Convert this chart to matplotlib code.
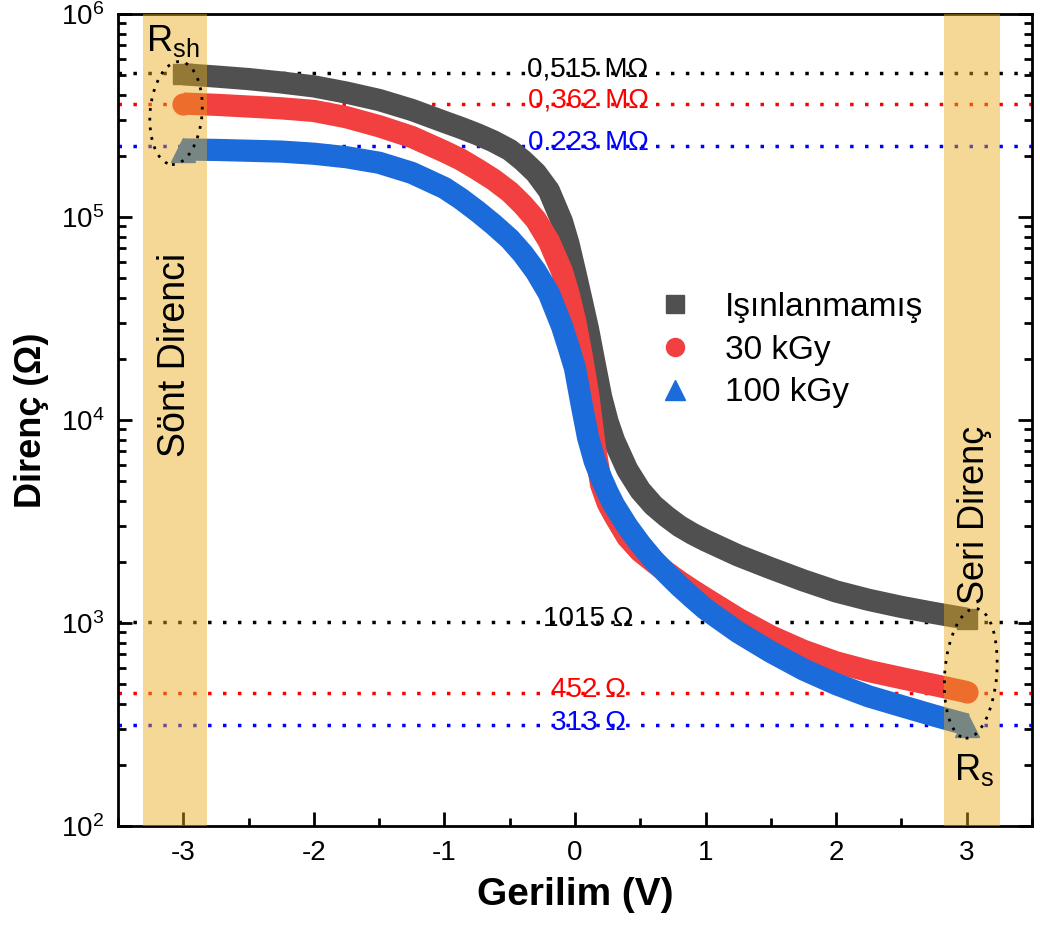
import matplotlib
matplotlib.use("Agg")
import matplotlib.pyplot as plt
import matplotlib.ticker as mticker
from matplotlib.lines import Line2D
from matplotlib.patches import Ellipse

plt.rcParams["font.family"] = ["Liberation Sans", "DejaVu Sans"]
plt.rcParams["mathtext.default"] = "regular"

# ---------------------------------------------------------------------------
# Data
# ---------------------------------------------------------------------------

VOLTAGE = [-3.0, -2.75, -2.5, -2.25, -2.0, -1.75, -1.5, -1.25, -1.0, -0.875,
           -0.75, -0.625, -0.5, -0.4, -0.3, -0.2, -0.1, -0.05, 0.0, 0.05,
           0.1, 0.15, 0.2, 0.25, 0.3, 0.4, 0.5, 0.6, 0.7, 0.8, 0.9, 1.0,
           1.25, 1.5, 1.75, 2.0, 2.25, 2.5, 2.75, 3.0]

R_UNIRRADIATED = [5.05e5, 4.92e5, 4.78e5, 4.6e5, 4.4e5, 4.1e5, 3.77e5, 3.37e5,
                  2.94e5, 2.75e5, 2.56e5, 2.36e5, 2.14e5, 1.9e5, 1.65e5,
                  1.35e5, 9.5e4, 7.4e4, 5.4e4, 3.9e4, 2.8e4, 1.9e4, 1.3e4,
                  9.8e3, 7.9e3, 5.7e3, 4.5e3, 3.8e3, 3.35e3, 3.0e3, 2.75e3,
                  2.55e3, 2.15e3, 1.86e3, 1.62e3, 1.43e3, 1.30e3, 1.2e3,
                  1.12e3, 1.05e3]

R_30KGY = [3.62e5, 3.57e5, 3.5e5, 3.43e5, 3.33e5, 3.1e5, 2.8e5, 2.48e5, 2.1e5,
           1.92e5, 1.72e5, 1.53e5, 1.33e5, 1.15e5, 9.7e4, 7.6e4, 5.4e4,
           4.2e4, 3.1e4, 2.1e4, 1.35e4, 7.5e3, 4.8e3, 3.9e3, 3.4e3, 2.65e3,
           2.25e3, 2.0e3, 1.78e3, 1.6e3, 1.45e3, 1.32e3, 1.05e3, 8.6e2,
           7.3e2, 6.4e2, 5.8e2, 5.35e2, 4.95e2, 4.57e2]

R_100KGY = [2.15e5, 2.14e5, 2.12e5, 2.1e5, 2.05e5, 1.97e5, 1.85e5, 1.65e5,
            1.39e5, 1.23e5, 1.07e5, 9.2e4, 7.8e4, 6.6e4, 5.4e4, 4.2e4, 2.9e4,
            2.3e4, 1.8e4, 1.2e4, 8.2e3, 6.3e3, 5.2e3, 4.4e3, 3.8e3, 3.0e3,
            2.45e3, 2.05e3, 1.76e3, 1.52e3, 1.33e3, 1.17e3, 9.0e2, 7.2e2,
            5.9e2, 5.0e2, 4.35e2, 3.9e2, 3.5e2, 3.16e2]

SERIES = ["Işınlanmamış", "30 kGy", "100 kGy"]

RSH_VALUES = [0.515e6, 0.362e6, 0.223e6]
RSH_LABELS = ["0,515 MΩ", "0,362 MΩ", "0.223 MΩ"]
RS_VALUES  = [1015, 452, 313]
RS_LABELS  = ["1015 Ω", "452 Ω", "313 Ω"]

GRAY   = "#505050"
RED    = "#f23f3f"
BLUE   = "#1b6bdb"
YELLOW = "#e9a916"
LINE_COLORS = ["black", "#ff0000", "#0000ff"]

# ---------------------------------------------------------------------------
# Figure
# ---------------------------------------------------------------------------

fig = plt.figure(figsize=(10.4, 9.25), dpi=100)
ax = fig.add_axes([118 / 1040, 99 / 925, 914 / 1040, 812 / 925])

curves = [R_UNIRRADIATED, R_30KGY, R_100KGY]
colors = [GRAY, RED, BLUE]
markers = ["s", "o", "^"]
msizes = [15, 15, 17]

for r, c, m, ms in zip(curves, colors, markers, msizes):
    ax.plot(VOLTAGE, r, color=c, lw=16, solid_capstyle="butt",
            solid_joinstyle="round", zorder=2)
    ax.plot([VOLTAGE[0], VOLTAGE[-1]], [r[0], r[-1]], linestyle="none",
            marker=m, ms=ms, color=c, zorder=2)

dots = dict(linestyle=(0, (1, 3.3)), lw=2.5, zorder=1.5)
for val, lab, col in zip(RSH_VALUES + RS_VALUES, RSH_LABELS + RS_LABELS,
                         LINE_COLORS * 2):
    ax.axhline(val, color=col, **dots)
    ax.annotate(lab, xy=(0.1, val), xytext=(0, -3), textcoords="offset points",
                ha="center", va="baseline", color=col, fontsize=20, zorder=4)

# shaded regions on top of curve ends
ax.axvspan(-3.306, -2.817, color=YELLOW, alpha=0.45, lw=0, zorder=3)
ax.axvspan(2.824, 3.256, color=YELLOW, alpha=0.45, lw=0, zorder=3)

ax.text(-3.06, 2.1e4, "Sönt Direnci", rotation=90, ha="center", va="center",
        fontsize=27, zorder=5)
ax.text(3.06, 3.4e3, "Seri Direnç", rotation=90, ha="center", va="center",
        fontsize=26, zorder=5)
ax.text(-3.08, 7.4e5, "R$_{sh}$", ha="center", va="center", fontsize=26, zorder=5)
ax.text(3.06, 189, "R$_s$", ha="center", va="center", fontsize=26, zorder=5)

ax.add_patch(Ellipse((0.0635, 0.878), 0.0569, 0.127, angle=-4,
                     transform=ax.transAxes, fill=False, ec="black",
                     lw=2, linestyle=(0, (1, 2.5)), zorder=6))
ax.add_patch(Ellipse((0.933, 0.188), 0.0569, 0.16, angle=-4,
                     transform=ax.transAxes, fill=False, ec="black",
                     lw=2, linestyle=(0, (1, 2.5)), zorder=6))

ax.set_yscale("log")
ax.set_xlim(-3.5, 3.5)
ax.set_ylim(1e2, 1e6)

ax.xaxis.set_major_locator(mticker.MultipleLocator(1))
ax.xaxis.set_minor_locator(mticker.MultipleLocator(0.5))
ax.xaxis.set_major_formatter(mticker.FuncFormatter(lambda v, _: f"{v:.0f}"))
ax.yaxis.set_major_locator(mticker.LogLocator(base=10, numticks=10))
ax.yaxis.set_minor_locator(mticker.LogLocator(base=10, subs=range(2, 10), numticks=10))
ax.yaxis.set_minor_formatter(mticker.NullFormatter())

ax.tick_params(which="both", direction="in", width=2, labelsize=20,
               right=True, top=False)
ax.tick_params(which="major", length=10, pad=10)
ax.tick_params(which="minor", length=6)
for sp in ax.spines.values():
    sp.set_linewidth(2)

ax.set_xlabel("Gerilim (V)", fontsize=28, fontweight="bold", labelpad=8)
ax.set_ylabel("Direnç (Ω)", fontsize=26, fontweight="bold", labelpad=8)

handles = [Line2D([], [], linestyle="none", marker=m, ms=ms - 2, color=c)
           for c, m, ms in zip(colors, markers, msizes)]
ax.legend(handles, SERIES, loc="center left", bbox_to_anchor=(0.591, 0.586),
          frameon=False, fontsize=24, handlelength=1, handletextpad=1.0,
          labelspacing=0.35, borderpad=0, borderaxespad=0)

fig.savefig("out.png", dpi=100)
